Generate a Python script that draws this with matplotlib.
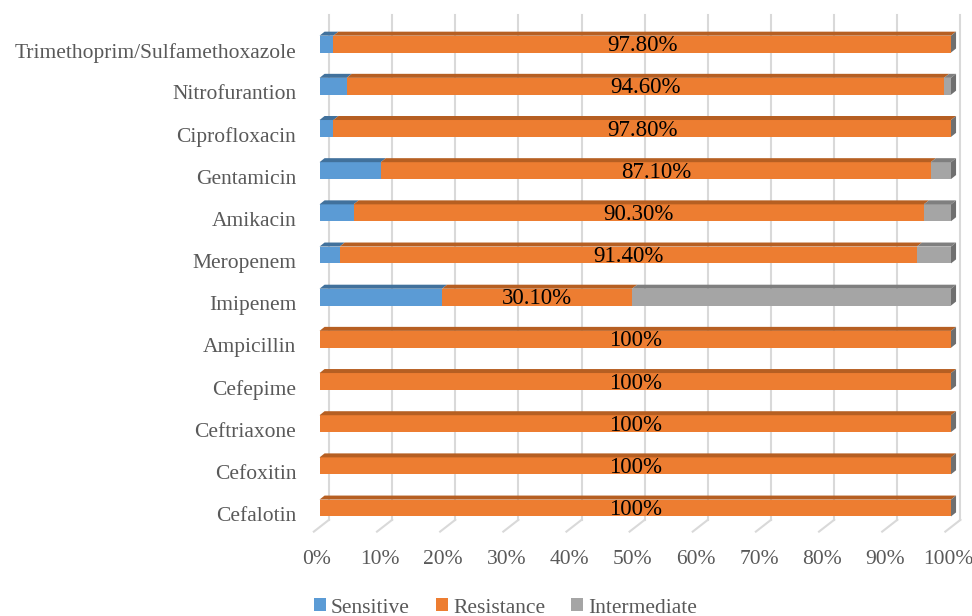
import numpy as np
import matplotlib
matplotlib.use("Agg")
import matplotlib.pyplot as plt
from matplotlib.patches import Polygon, Patch
from matplotlib.transforms import ScaledTranslation

plt.rcParams['font.family'] = ['Liberation Serif', 'DejaVu Serif']

# ---- data (bottom to top) ----
drugs = ["Cefalotin", "Cefoxitin", "Ceftriaxone", "Cefepime", "Ampicillin",
         "Imipenem", "Meropenem", "Amikacin", "Gentamicin", "Ciprofloxacin",
         "Nitrofurantion", "Trimethoprim/Sulfamethoxazole"]
sensitive = [0, 0, 0, 0, 0, 19.4, 3.2, 5.4, 9.7, 2.2, 4.3, 2.2]
resistance = [100, 100, 100, 100, 100, 30.1, 91.4, 90.3, 87.1, 97.8, 94.6, 97.8]
intermediate = [0, 0, 0, 0, 0, 50.5, 5.4, 4.3, 3.2, 0, 1.1, 0]
res_labels = ["100%", "100%", "100%", "100%", "100%", "30.10%", "91.40%",
              "90.30%", "87.10%", "97.80%", "94.60%", "97.80%"]
series_names = ["Sensitive", "Resistance", "Intermediate"]
xtick_vals = np.arange(0, 101, 10)
xtick_labels = [f"{v}%" for v in xtick_vals]

# ---- style ----
face = ["#5B9BD5", "#ED7D31", "#A5A5A5"]
top = ["#41719C", "#B65F22", "#7F7F7F"]
side_col = "#6F6F6F"
text_grey = "#595959"
bar_h = 0.40
DX, DY = 0.8, 0.095          # bar depth offset (data units)
GX = 1.5                     # back wall offset for gridlines
FX, FY = 2.4, 0.28           # floor depth

fig = plt.figure(figsize=(9.72, 6.16), dpi=100)
ax = fig.add_axes([317/972, (616-532)/616, 634/972, (532-15)/616])
ax.set_xlim(0, 100)
ax.set_ylim(-0.569, 11.69)
for s in ax.spines.values():
    s.set_visible(False)

y = np.arange(len(drugs))
grid_bottom = -0.28
grid_top = 11.69
for v in xtick_vals:
    ax.plot([v + GX, v + GX], [grid_bottom, grid_top], color="#D9D9D9", lw=1.5,
            zorder=0, clip_on=False)
    ax.plot([v + GX, v + GX - FX], [grid_bottom, grid_bottom - FY], color="#D9D9D9",
            lw=1.5, zorder=0, clip_on=False)

data = [sensitive, resistance, intermediate]
for i in range(len(drugs)):
    left = 0.0
    yb = y[i] - bar_h / 2
    yt = y[i] + bar_h / 2
    for k in range(3):
        w = data[k][i]
        if w > 0:
            ax.add_patch(Polygon([[left, yb], [left + w, yb], [left + w, yt], [left, yt]],
                                 closed=True, facecolor=face[k], edgecolor="none",
                                 zorder=3, clip_on=False))
            ax.add_patch(Polygon([[left, yt], [left + w, yt], [left + w + DX, yt + DY], [left + DX, yt + DY]],
                                 closed=True, facecolor=top[k], edgecolor="none",
                                 zorder=3, clip_on=False))
        left += w
    ax.add_patch(Polygon([[left, yb], [left + DX, yb + DY], [left + DX, yt + DY], [left, yt]],
                         closed=True, facecolor=side_col, edgecolor="none",
                         zorder=3, clip_on=False))
    cx = sensitive[i] + resistance[i] / 2
    ax.text(cx, y[i] - 0.04, res_labels[i], ha="center", va="center", fontsize=16.5,
            color="black", zorder=5)

ax.set_xticks(xtick_vals - 0.4)
ax.set_xticklabels(xtick_labels, fontsize=15.5, color=text_grey)
ax.set_yticks(y)
ax.set_yticklabels(drugs, fontsize=15.5, color=text_grey)
ax.tick_params(axis="both", length=0)
ax.tick_params(axis="x", pad=13)
ax.tick_params(axis="y", pad=15)
off = ScaledTranslation(0, -6/100, fig.dpi_scale_trans)
for lbl in ax.get_yticklabels():
    lbl.set_transform(lbl.get_transform() + off)

handles = [Patch(facecolor=face[k], edgecolor="none", label=series_names[k]) for k in range(3)]
fig.legend(handles=handles, loc="center", bbox_to_anchor=(0.52, 1 - 608/616), ncol=3,
           frameon=False, fontsize=15.5, handlelength=0.55, handleheight=0.55,
           handletextpad=0.25, columnspacing=1.2, labelcolor=text_grey)

fig.savefig("out.png", dpi=100)
